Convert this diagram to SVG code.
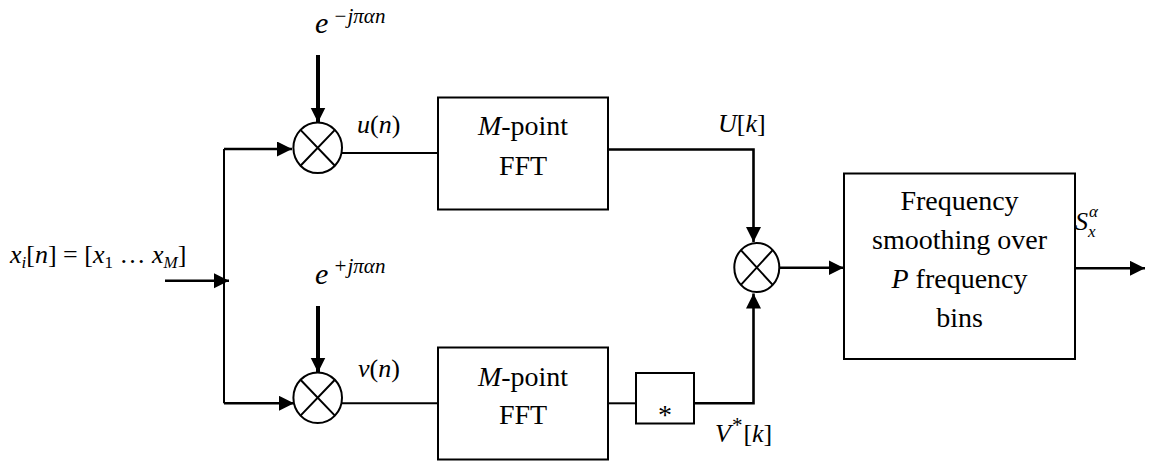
<svg xmlns="http://www.w3.org/2000/svg" width="1155" height="461" viewBox="0 0 1155 461">
<style>
.ln{fill:none;stroke:#000;stroke-width:2}
.th{fill:none;stroke:#000;stroke-width:2.6}
.tk{fill:none;stroke:#000;stroke-width:4}
.box{fill:#fff;stroke:#000;stroke-width:2}
.txt{font-family:"Liberation Serif","Times New Roman",Times,"Noto Serif","DejaVu Serif",serif;font-size:28px;fill:#000}
.m{font-family:"Liberation Serif","DejaVu Serif","Noto Serif",serif;font-style:italic;font-size:26px;fill:#000}
.mu{font-style:normal}
.sup{font-size:17px}
.big{font-size:30px}
.sup2{font-size:21px}
</style>
<defs>
<marker id="ah" markerUnits="userSpaceOnUse" markerWidth="16" markerHeight="16" refX="15" refY="7.5" orient="auto">
<path d="M0,0 L15,7.5 L0,15 z" fill="#000"/>
</marker>
</defs>
<g id="connectors">
<path class="ln" d="M224,149 V403.3"/>
<path class="th" d="M224,149 H292" marker-end="url(#ah)"/>
<path class="th" d="M224,403.3 H294" marker-end="url(#ah)"/>
<path class="th" d="M165,280.7 H229" marker-end="url(#ah)"/>
<path class="tk" d="M318,55 V122.5" marker-end="url(#ah)"/>
<path class="tk" d="M318,306 V372.5" marker-end="url(#ah)"/>
<path class="ln" d="M342,153 H438"/>
<path class="ln" d="M342,403.3 H438"/>
<path class="th" d="M608,149.5 H753.5 V242" marker-end="url(#ah)"/>
<path class="ln" d="M608,403.3 H636"/>
<path class="th" d="M694,403.3 H753.5 V293.5" marker-end="url(#ah)"/>
<path class="th" d="M779,267.7 H843.5" marker-end="url(#ah)"/>
<path class="th" d="M1075,268.3 H1145" marker-end="url(#ah)"/>
</g>
<g id="mult-top">
<ellipse class="ln" cx="317.7" cy="147.8" rx="24.3" ry="25.3"/>
<path class="ln" d="M300.5,129.9 L334.9,165.7 M334.9,129.9 L300.5,165.7"/>
</g>
<g id="mult-bottom">
<ellipse class="ln" cx="317.7" cy="397.7" rx="24.3" ry="25.3"/>
<path class="ln" d="M300.5,379.8 L334.9,415.6 M334.9,379.8 L300.5,415.6"/>
</g>
<g id="mult-right">
<ellipse class="ln" cx="756.8" cy="267.5" rx="22.5" ry="24.6"/>
<path class="ln" d="M740.9,250.1 L772.7,284.9 M772.7,250.1 L740.9,284.9"/>
</g>
<g id="fft-top">
<rect class="box" x="438" y="97.5" width="170" height="112"/>
<text class="txt" x="523" y="135" text-anchor="middle"><tspan font-style="italic">M</tspan>-point</text>
<text class="txt" x="523" y="175" text-anchor="middle">FFT</text>
</g>
<g id="fft-bottom">
<rect class="box" x="438" y="347.5" width="170" height="112"/>
<text class="txt" x="523" y="386" text-anchor="middle"><tspan font-style="italic">M</tspan>-point</text>
<text class="txt" x="523" y="424" text-anchor="middle">FFT</text>
</g>
<g id="conj">
<rect class="box" x="636" y="373" width="58" height="50.5"/>
<text class="txt" x="665" y="424" text-anchor="middle">*</text>
</g>
<g id="smoothing">
<rect class="box" x="844" y="173.5" width="231" height="185.5"/>
<text class="txt" x="959.5" y="210" text-anchor="middle">Frequency</text>
<text class="txt" x="959.5" y="248.5" text-anchor="middle">smoothing over</text>
<text class="txt" x="959.5" y="288" text-anchor="middle"><tspan font-style="italic">P</tspan> frequency</text>
<text class="txt" x="959.5" y="327" text-anchor="middle">bins</text>
</g>
<g id="labels">
<text class="m big" x="315" y="33">e<tspan class="sup2" dx="5" dy="-10">−jπαn</tspan></text>
<text class="m big" x="315" y="284">e<tspan class="sup2" dx="5" dy="-11">+jπαn</tspan></text>
<text class="m" x="357" y="133" font-size="27">u<tspan class="mu">(</tspan>n<tspan class="mu">)</tspan></text>
<text class="m" x="358" y="377" font-size="27">v<tspan class="mu">(</tspan>n<tspan class="mu">)</tspan></text>
<text class="m" x="718" y="132" font-size="27">U<tspan class="mu">[</tspan>k<tspan class="mu">]</tspan></text>
<text class="m" x="715" y="442" font-size="27">V<tspan class="mu sup2" dx="1" dy="-10">*</tspan><tspan class="mu" dx="1" dy="10">[</tspan>k<tspan class="mu">]</tspan></text>
<text class="m" x="1075" y="230" font-size="29">S<tspan class="sup" dx="1" dy="-13">α</tspan><tspan class="sup" dx="-10" dy="20">x</tspan></text>
<text class="m" x="10" y="263" font-size="27">x<tspan class="sup" dy="5">i</tspan><tspan class="mu" dy="-5">[</tspan>n<tspan class="mu">] = [</tspan>x<tspan class="mu sup" dy="5">1</tspan><tspan class="mu" dy="-5"> … </tspan>x<tspan class="sup" dy="5">M</tspan><tspan class="mu" dy="-5">]</tspan></text>
</g>
</svg>
